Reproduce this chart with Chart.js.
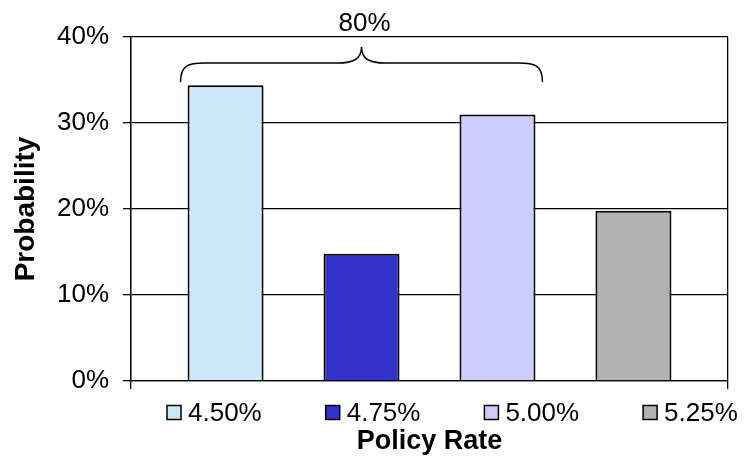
<!DOCTYPE html>
<html>
<head>
<meta charset="utf-8">
<script src="https://cdn.jsdelivr.net/npm/chart.js@4/dist/chart.umd.min.js"></script>
<style>
  html, body { margin: 0; padding: 0; background: #fff; }
  #wrap { width: 744px; height: 462px; }
</style>
</head>
<body>
<div id="wrap"><canvas id="c" width="744" height="462"></canvas></div>
<script>
// Probability of each policy rate outcome (in %)
const policyRates = ['4.50%', '4.75%', '5.00%', '5.25%'];
const probabilities = [34.4, 14.8, 31.0, 19.8];
const probabilityTicks = [0, 10, 20, 30, 40];
// outcomes grouped under the brace
const bracedRates = ['4.50%', '4.75%', '5.00%'];

const barColors = ['#CCE8F8', '#3333CC', '#CCCCFF', '#B2B2B2'];
const FONT = "'Liberation Sans', Arial, Helvetica, sans-serif";
const TEXT_SIZE = 26;

// Legend row under the axis: square swatch + rate label
const rateLegend = {
  id: 'rateLegend',
  afterDraw(chart) {
    const ctx = chart.ctx;
    const startX = 167, step = 158.7, box = 14, cy = 412.5;
    ctx.save();
    ctx.font = TEXT_SIZE + 'px ' + FONT;
    ctx.textBaseline = 'middle';
    ctx.textAlign = 'left';
    chart.data.datasets.forEach((ds, i) => {
      const x = startX + i * step;
      ctx.fillStyle = ds.backgroundColor;
      ctx.fillRect(x, cy - box / 2, box, box);
      ctx.strokeStyle = '#000';
      ctx.lineWidth = 1.5;
      ctx.strokeRect(x, cy - box / 2, box, box);
      ctx.fillStyle = '#000';
      ctx.fillText(ds.label, x + box + 7, cy + 1);
    });
    ctx.restore();
  }
};

// Curly brace spanning the grouped bars, labelled with their combined probability
const braceLabel = {
  id: 'braceLabel',
  afterDatasetsDraw(chart) {
    const idx = bracedRates.map(r => policyRates.indexOf(r));
    const first = chart.getDatasetMeta(idx[0]).data[0];
    const last = chart.getDatasetMeta(idx[idx.length - 1]).data[0];
    const left = first.x - first.width / 2 - 7;
    const right = last.x + last.width / 2 + 7;
    const top = chart.chartArea.top;
    const tipY = top + 45, flatY = top + 26, peakY = top + 10;
    const cx = (left + right) / 2;
    const r = 24;
    const ctx = chart.ctx;
    ctx.save();
    ctx.strokeStyle = '#000';
    ctx.lineWidth = 1.5;
    ctx.beginPath();
    ctx.moveTo(left, tipY);
    ctx.bezierCurveTo(left, flatY + 2, left + 8, flatY, left + r, flatY);
    ctx.lineTo(cx - r, flatY);
    ctx.bezierCurveTo(cx - 8, flatY, cx, flatY - 4, cx, peakY);
    ctx.bezierCurveTo(cx, flatY - 4, cx + 8, flatY, cx + r, flatY);
    ctx.lineTo(right - r, flatY);
    ctx.bezierCurveTo(right - 8, flatY, right, flatY + 2, right, tipY);
    ctx.stroke();

    const total = idx.reduce((s, i) => s + probabilities[i], 0);
    ctx.font = TEXT_SIZE + 'px ' + FONT;
    ctx.fillStyle = '#000';
    ctx.textAlign = 'center';
    ctx.textBaseline = 'middle';
    ctx.fillText(Math.round(total) + '%', cx + 3, top - 13);
    ctx.restore();
  }
};

new Chart(document.getElementById('c'), {
  type: 'bar',
  data: {
    labels: [''],
    datasets: policyRates.map((rate, i) => ({
      label: rate,
      data: [probabilities[i]],
      backgroundColor: barColors[i],
      borderColor: '#000',
      borderWidth: 2,
      categoryPercentage: 0.911,
      barPercentage: 0.559
    }))
  },
  options: {
    responsive: false,
    animation: false,
    devicePixelRatio: 1,
    layout: { padding: { top: 37, right: 16, left: 0, bottom: 0 } },
    plugins: {
      legend: { display: false },
      tooltip: { enabled: false }
    },
    scales: {
      x: {
        type: 'category',
        offset: true,
        grid: { color: '#000', lineWidth: 1.3, tickLength: 8, offset: true, drawOnChartArea: true },
        border: { color: '#000', width: 1.3 },
        ticks: { display: false },
        title: {
          display: true,
          text: 'Policy Rate',
          color: '#000',
          font: { family: FONT, size: 27, weight: 'bold' },
          padding: { top: 0, bottom: 4 }
        },
        afterFit(scale) { scale.height = 81; }
      },
      y: {
        min: 0,
        max: 40,
        afterBuildTicks(scale) {
          scale.ticks = probabilityTicks.map(v => ({ value: v }));
        },
        ticks: {
          callback: v => v + '%',
          color: '#000',
          font: { family: FONT, size: TEXT_SIZE },
          padding: 14
        },
        grid: { color: '#000', lineWidth: 1.3, tickLength: 8 },
        border: { color: '#000', width: 1.3 },
        title: {
          display: true,
          text: 'Probability',
          color: '#000',
          font: { family: FONT, size: 28, weight: 'bold' },
          padding: { top: 9, bottom: 0 }
        },
        afterFit(scale) { scale.width = 131; }
      }
    }
  },
  plugins: [rateLegend, braceLabel]
});
</script>
</body>
</html>
